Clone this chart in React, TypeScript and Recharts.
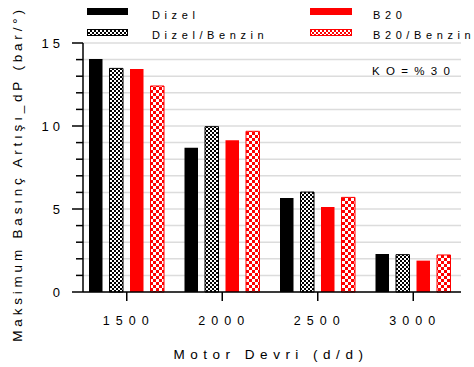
import React from "react";
import { BarChart, Bar, XAxis, YAxis, CartesianGrid } from "recharts";

const categories = ["1500", "2000", "2500", "3000"];
const dizel = [14.04, 8.69, 5.66, 2.29];
const dizelBenzin = [13.47, 9.96, 6.02, 2.25];
const b20 = [13.43, 9.14, 5.12, 1.89];
const b20Benzin = [12.41, 9.68, 5.7, 2.23];
const yTicks = [0, 1, 2, 3, 4, 5, 6, 7, 8, 9, 10, 11, 12, 13, 14, 15];

const data = categories.map((rpm, i) => ({
  rpm,
  dizel: dizel[i],
  dizelBenzin: dizelBenzin[i],
  b20: b20[i],
  b20Benzin: b20Benzin[i],
}));

const FONT = "'Liberation Sans', Arial, sans-serif";
const RED = "#ff0000";

function YTick({ x, y, payload }: any) {
  const major = payload.value % 5 === 0;
  return (
    <g>
      <line x1={x - (major ? 11 : 7)} x2={x} y1={y} y2={y} stroke="#000" strokeWidth={1.5} />
      {major && (
        <text
          x={x - 19}
          y={y + 5}
          textAnchor="end"
          fontFamily={FONT}
          fontSize={13}
          letterSpacing={4}
          fill="#000"
        >
          {payload.value}
        </text>
      )}
    </g>
  );
}

function XTick({ x, y, payload }: any) {
  return (
    <text
      x={x + 2}
      y={y + 24}
      textAnchor="middle"
      fontFamily={FONT}
      fontSize={12.5}
      letterSpacing={6}
      fill="#000"
    >
      {payload.value}
    </text>
  );
}

const legendText = {
  fontFamily: FONT,
  fontSize: 11,
  letterSpacing: 4.6,
  fill: "#000",
};

export default function App() {
  return (
    <div style={{ position: "absolute", left: 0, top: 0, width: 474, height: 367, background: "#fff" }}>
      <BarChart
        width={474}
        height={367}
        data={data}
        margin={{ top: 43, right: 13, bottom: 0, left: 0 }}
        barGap={7}
        barSize={13.5}
      >
        <defs>
          <pattern id="checkBlack" width={4} height={4} patternUnits="userSpaceOnUse">
            <rect width={4} height={4} fill="#fff" />
            <rect width={2} height={2} fill="#000" />
            <rect x={2} y={2} width={2} height={2} fill="#000" />
          </pattern>
          <pattern id="checkRed" width={6} height={6} patternUnits="userSpaceOnUse">
            <rect width={6} height={6} fill="#fff" />
            <rect width={3} height={3} fill={RED} />
            <rect x={3} y={3} width={3} height={3} fill={RED} />
          </pattern>
        </defs>
        <CartesianGrid vertical={false} stroke="#dcdcdc" strokeWidth={1.5} />
        <XAxis
          dataKey="rpm"
          height={75}
          padding={{ left: -4, right: 0 }}
          axisLine={{ stroke: "#000", strokeWidth: 1.5 }}
          tickLine={{ stroke: "#000", strokeWidth: 1.5 }}
          tickSize={9}
          tickMargin={0}
          tick={<XTick />}
          interval={0}
        />
        <YAxis
          width={83}
          domain={[0, 15]}
          ticks={yTicks}
          interval={0}
          axisLine={{ stroke: "#000", strokeWidth: 1.5 }}
          tickLine={false}
          tickSize={0}
          tickMargin={0}
          tick={<YTick />}
        />
        <Bar dataKey="dizel" fill="#000" isAnimationActive={false} />
        <Bar dataKey="dizelBenzin" fill="url(#checkBlack)" stroke="#000" strokeWidth={1} isAnimationActive={false} />
        <Bar dataKey="b20" fill={RED} isAnimationActive={false} />
        <Bar dataKey="b20Benzin" fill="url(#checkRed)" stroke={RED} strokeWidth={1} isAnimationActive={false} />
      </BarChart>

      {/* legend, titles and note drawn on top */}
      <svg
        width={474}
        height={367}
        style={{ position: "absolute", left: 0, top: 0, pointerEvents: "none" }}
      >
        <defs>
          <pattern id="legBlack" width={4} height={4} patternUnits="userSpaceOnUse">
            <rect width={4} height={4} fill="#fff" />
            <rect width={2} height={2} fill="#000" />
            <rect x={2} y={2} width={2} height={2} fill="#000" />
          </pattern>
          <pattern id="legRed" width={4} height={4} patternUnits="userSpaceOnUse">
            <rect width={4} height={4} fill="#fff" />
            <rect width={2} height={2} fill={RED} />
            <rect x={2} y={2} width={2} height={2} fill={RED} />
          </pattern>
        </defs>
        <rect x={87} y={8} width={41} height={7} fill="#000" />
        <text x={152} y={19} {...legendText}>Dizel</text>
        <rect x={87.5} y={29.5} width={40} height={6} fill="url(#legBlack)" stroke="#000" strokeWidth={1} />
        <text x={152} y={39} {...legendText}>Dizel/Benzin</text>
        <rect x={310} y={8} width={42} height={7} fill={RED} />
        <text x={373} y={19} {...legendText}>B20</text>
        <rect x={310.5} y={29.5} width={41} height={6} fill="url(#legRed)" stroke={RED} strokeWidth={1} />
        <text x={373} y={39} {...legendText}>B20/Benzin</text>

        <text x={372} y={75} fontFamily={FONT} fontSize={11.5} letterSpacing={6.3} fill="#000">
          KO=%30
        </text>

        <text
          x={271}
          y={359}
          textAnchor="middle"
          fontFamily={FONT}
          fontSize={13.5}
          letterSpacing={5.5}
          fill="#000"
        >
          Motor Devri (d/d)
        </text>
        <text
          transform="translate(22,174) rotate(-90)"
          textAnchor="middle"
          fontFamily={FONT}
          fontSize={13.5}
          letterSpacing={3.8}
          fill="#000"
        >
          Maksimum Basınç Artışı_dP (bar/°)
        </text>
      </svg>
    </div>
  );
}
